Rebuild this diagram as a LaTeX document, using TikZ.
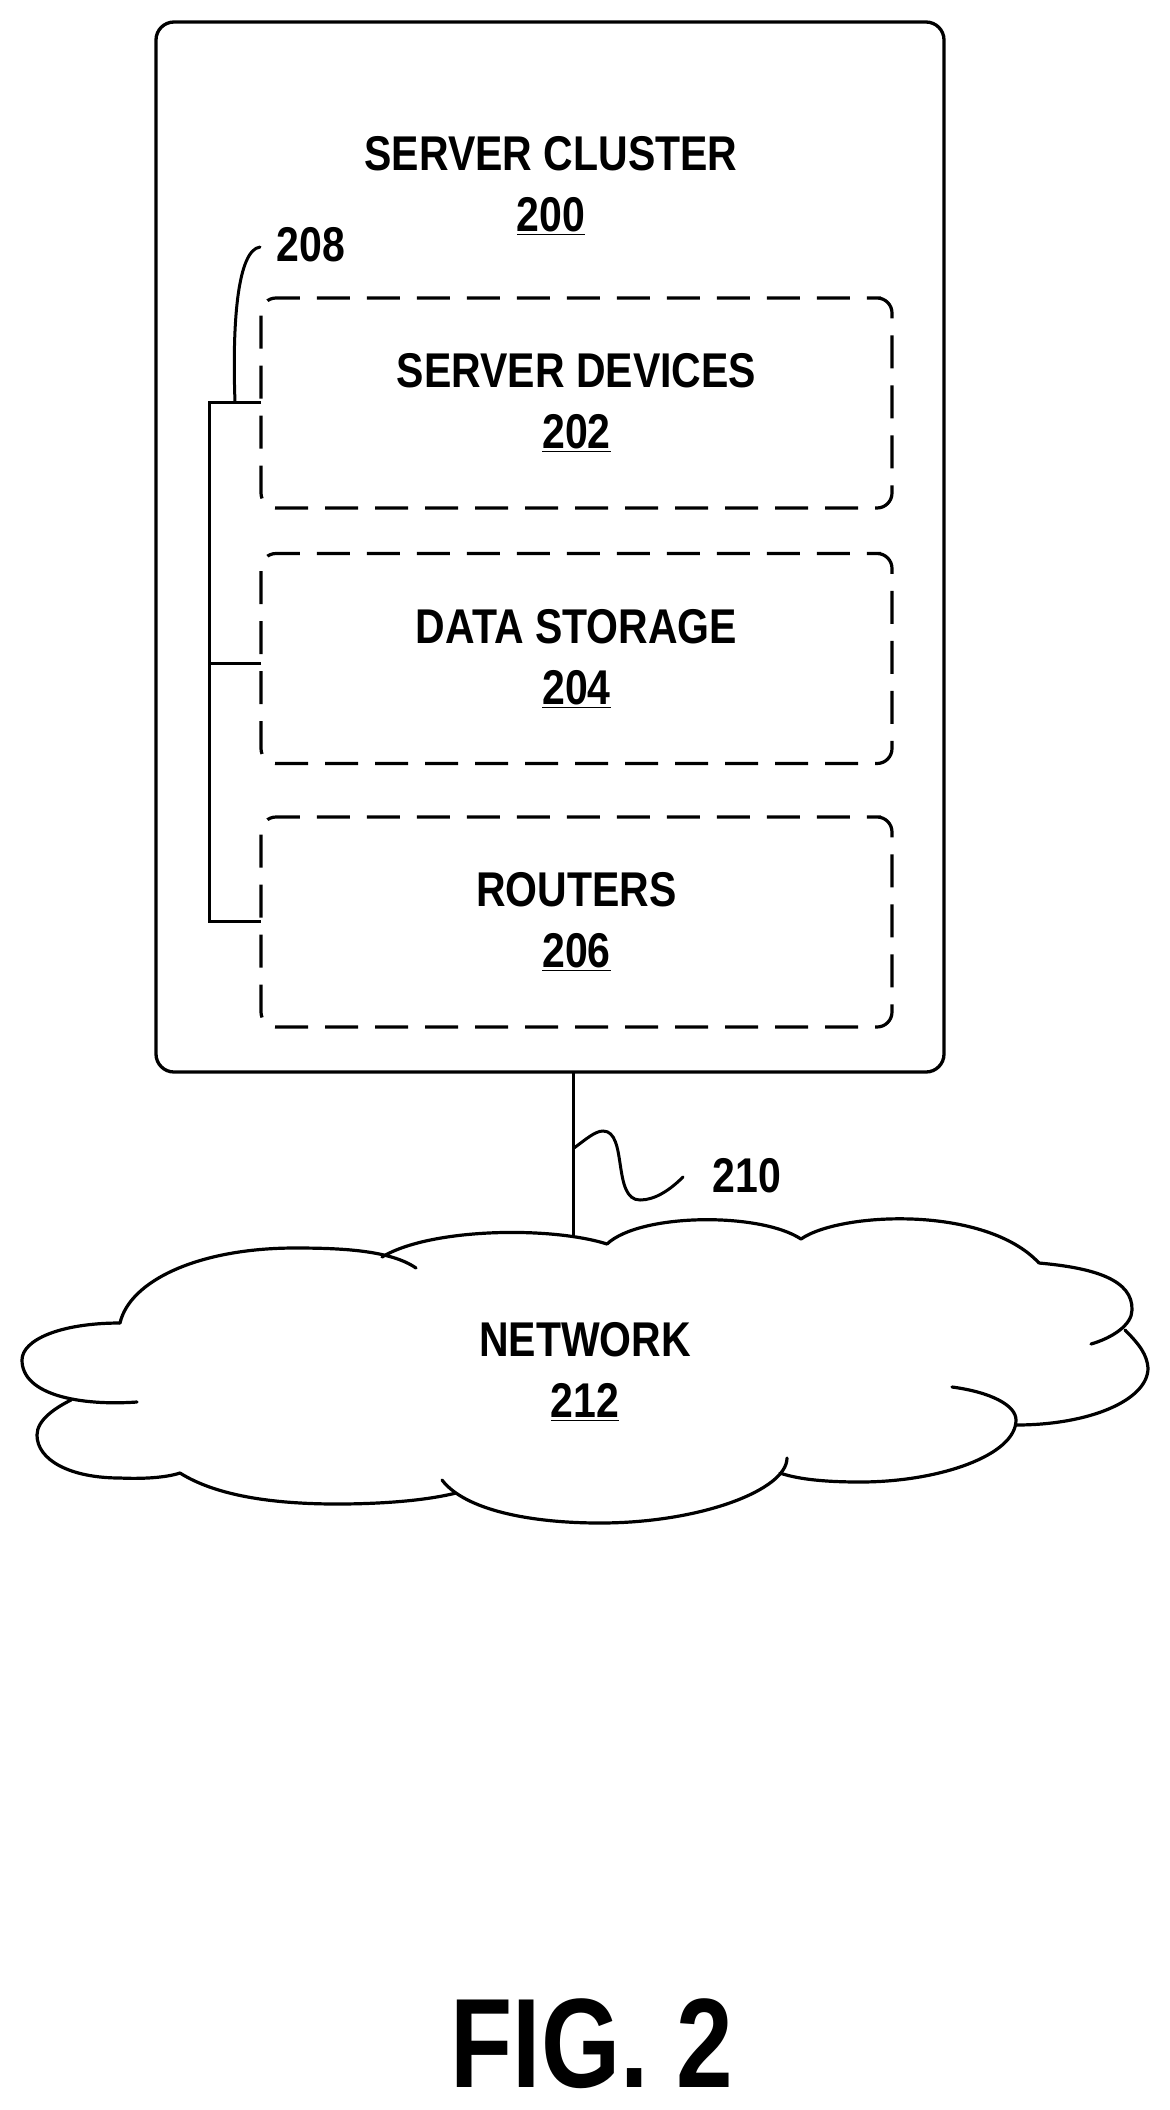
\documentclass[tikz,border=0pt]{standalone}
\usepackage{fontspec}
\setmainfont{Liberation Sans}[FakeStretch=0.84]
\newfontfamily\figfont{Liberation Sans}[FakeStretch=0.80]
\tikzset{
  x=0.5pt,y=-0.5pt,
  outerbox/.style={draw,line width=1.65pt,rounded corners=9pt,minimum width=394pt,minimum height=525pt,outer sep=0pt},
  dashbox/.style={minimum width=315.5pt,minimum height=105pt,outer sep=0pt,
     font=\fontsize{24.4}{30.5}\selectfont\bfseries,align=center,text depth=2pt},
  dashline/.style={line width=1.6pt,rounded corners=7.5pt,dash pattern=on 16.5pt off 8.5pt},
  lab/.style={font=\fontsize{24.4}{30.5}\selectfont\bfseries,align=center,inner sep=0pt},
  wire/.style={line width=1.5pt},
  cloudline/.style={line width=1.6pt,line cap=round},
}
\begin{document}
\begin{tikzpicture}
\useasboundingbox (0,0) rectangle (1170,2110);
\node[outerbox] (cluster) at (550,547) {};
\node[lab] (clustertxt) at (551,186) {SERVER CLUSTER\\\underline{200}};
\node[dashbox] (devices) at (576.5,403) {SERVER DEVICES\\\underline{202}};
\node[dashbox] (storage) at (576.5,658.5) {DATA STORAGE\\\underline{204}};
\node[dashbox] (routers) at (576.5,922) {ROUTERS\\\underline{206}};
\node[lab] (n208) at (311,245) {208};
\node[lab] (n210) at (747,1176) {210};
\node[lab] (network) at (585,1372) {NETWORK\\\underline{212}};
\node[inner sep=0pt,font=\figfont\fontsize{63.6}{70}\selectfont\bfseries] (fig) at (592,2044) {FIG. 2};
% dashed outlines, each begun where the reference's first dash begins
\coordinate (dashx) at (866,0);
\foreach \b in {devices,storage,routers}
  \draw[dashline] (\b.north -| dashx) -- (\b.north east) -- (\b.south east) -- (\b.south west) -- (\b.north west) -- cycle;
% bracket
\coordinate (busbot) at (209,921);
\coordinate (bustop) at (209,402);
\coordinate (busmid) at (209,663);
\coordinate (tap208) at (235,402);
\coordinate (end208) at (260,247);
\draw[wire] (devices.west |- bustop) -- (bustop) -- (busbot) -- (routers.west |- busbot);
\draw[wire] (storage.west |- busmid) -- (busmid);
\draw[wire,line cap=round] (tap208) .. controls (232,320) and (238,250) .. (end208);
% link to network
\coordinate (linkbot) at (573.5,1237);
\coordinate (tap210) at (574,1148);
\coordinate (end210) at (683,1177);
\draw[wire] (cluster.south -| linkbot) -- (linkbot);
\draw[wire,line cap=round] (tap210) .. controls (585,1140) and (595,1131) .. (603,1131) .. controls (628,1131) and (612,1200) .. (640,1200) .. controls (655,1200) and (670,1190) .. (end210);
% cloud
\begin{scope}[cloudline]
\draw (382,1257) .. controls (430,1228) and (550,1226) .. (607,1244);
\draw (607,1244) .. controls (640,1213) and (760,1212) .. (801,1239);
\draw (801,1239) .. controls (840,1212) and (985,1205) .. (1039,1263);
\draw (1039,1263) .. controls (1095,1268) and (1133,1280) .. (1132,1310) .. controls (1132,1325) and (1112,1338) .. (1091,1344);
\draw (1125,1330) .. controls (1140,1345) and (1147,1355) .. (1148,1368) .. controls (1148,1400) and (1090,1425) .. (1016,1425);
\draw (952,1387) .. controls (990,1392) and (1016,1405) .. (1016,1420) .. controls (1016,1455) and (940,1482) .. (860,1482) .. controls (830,1482) and (800,1480) .. (780,1473);
\draw (787,1458) .. controls (787,1490) and (700,1523) .. (600,1523) .. controls (530,1523) and (465,1510) .. (442,1480);
\draw (456,1493) .. controls (420,1502) and (370,1504) .. (337,1504) .. controls (270,1504) and (215,1495) .. (180,1473);
\draw (180,1473) .. controls (165,1478) and (140,1479) .. (120,1478) .. controls (70,1478) and (37,1460) .. (37,1435) .. controls (37,1420) and (55,1408) .. (71,1400);
\draw (137,1402) .. controls (80,1406) and (22,1395) .. (22,1360) .. controls (22,1340) and (60,1323) .. (120,1323);
\draw (120,1323) .. controls (130,1280) and (200,1248) .. (295,1248) .. controls (340,1248) and (390,1250) .. (416,1268);
\end{scope}
\end{tikzpicture}
\end{document}
